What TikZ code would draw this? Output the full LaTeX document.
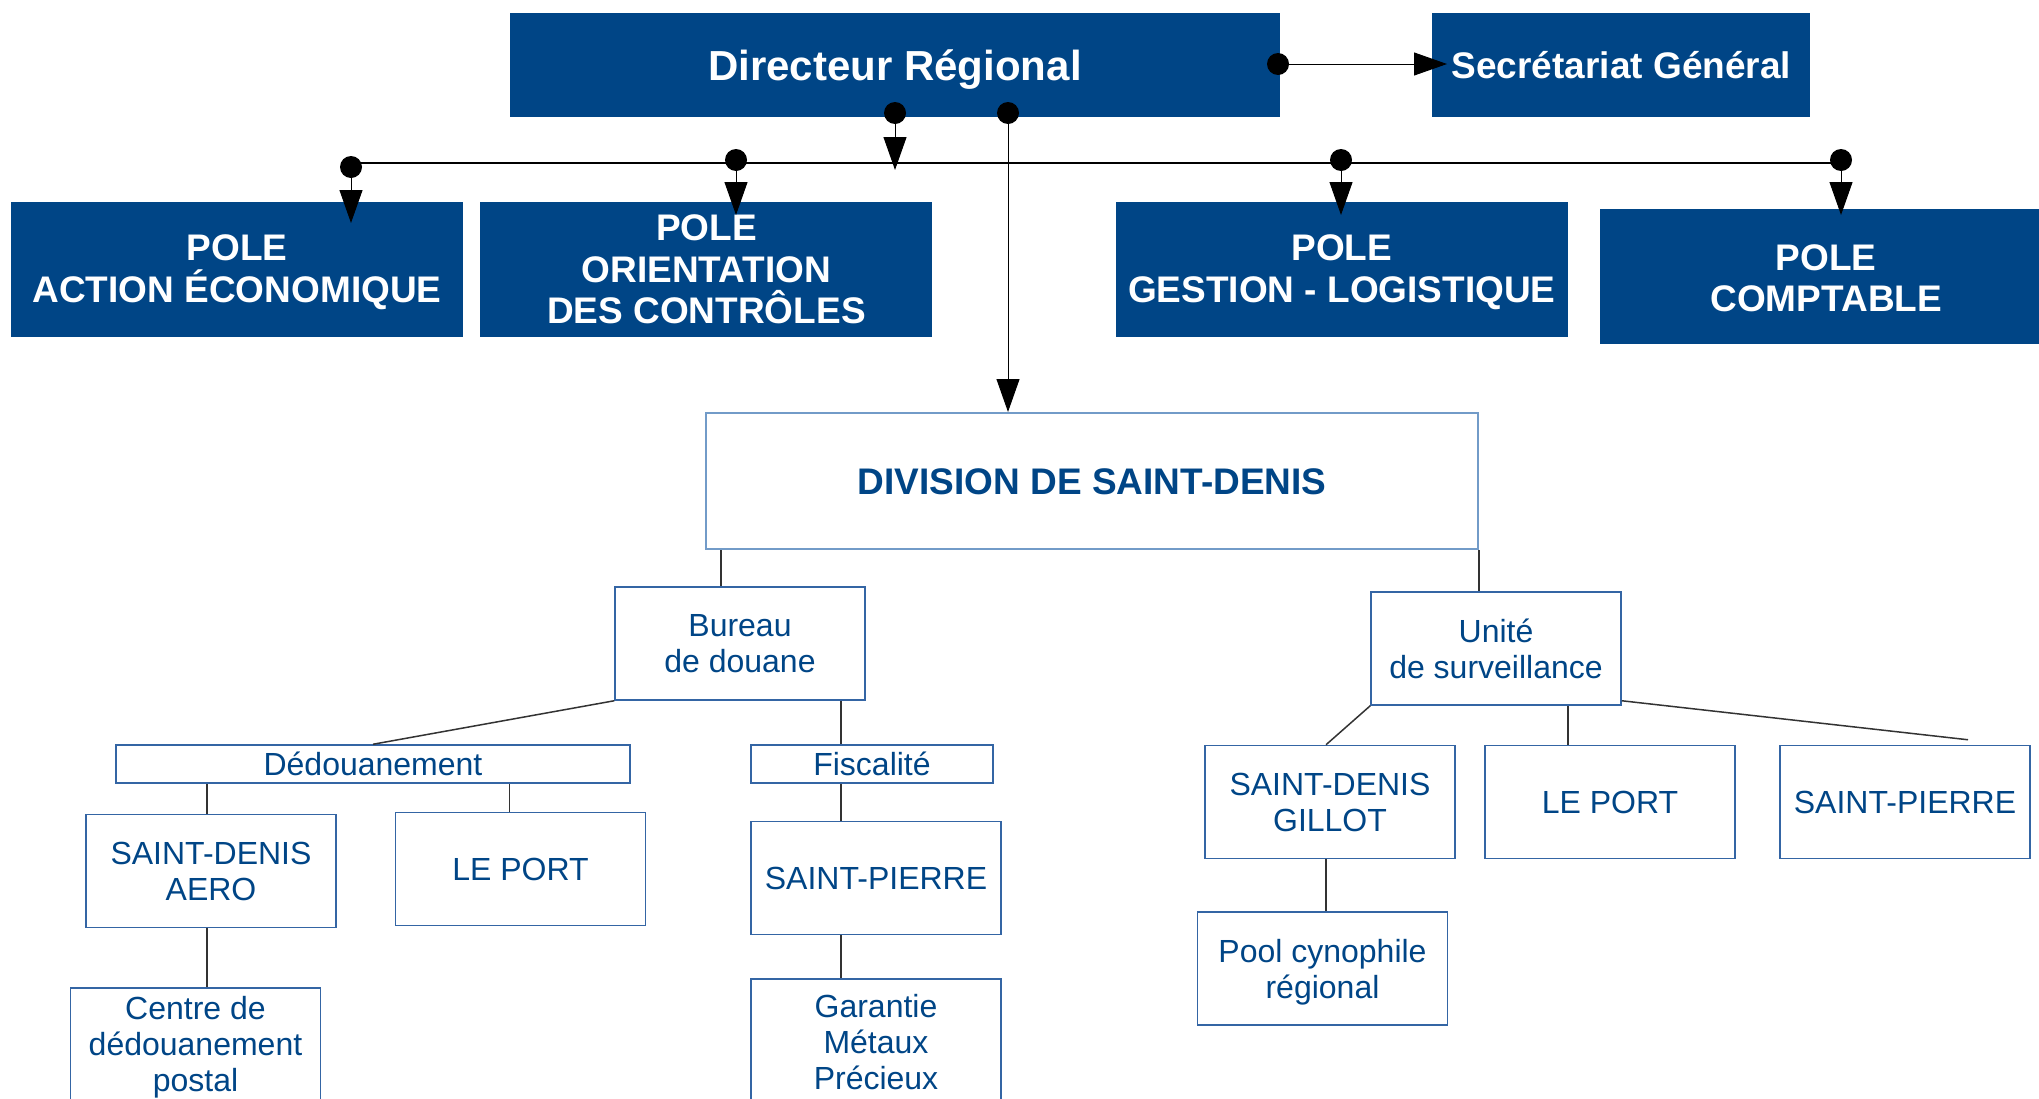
\documentclass[tikz,border=0pt]{standalone}
\usepackage{fontspec}
\setmainfont{Liberation Sans}
\usetikzlibrary{arrows.meta,positioning}

\definecolor{dgblue}{RGB}{0,69,134}
\definecolor{edgeblue}{RGB}{52,101,164}
\definecolor{paleblue}{RGB}{114,155,200}

\newcommand{\sinkby}[1]{\rule{0pt}{#1}}

\tikzset{
  topbox/.style={fill=dgblue, text=white, inner sep=0pt, align=center,
    font=\bfseries\fontsize{37}{41.5}\selectfont},
  polebox/.style={topbox, minimum width=452pt, minimum height=135pt},
  unitbox/.style={draw=edgeblue, line width=1.5pt, text=dgblue, inner sep=0pt, align=center,
    font=\fontsize{32}{36}\selectfont, minimum width=250pt, minimum height=113pt},
  stripbox/.style={unitbox, minimum height=38pt},
  dot/.style={circle, fill=black, inner sep=0pt, minimum size=22pt},
  feed/.style={line width=1pt, -{Triangle[length=33pt,width=23pt]}},
  bus/.style={line width=1.6pt},
  tie/.style={line width=1.5pt, draw=black!80}
}

\begin{document}
\begin{tikzpicture}[x=1pt, y=-1pt]
  \useasboundingbox (0,0) rectangle (2039,1098);

  \node[topbox, minimum width=770pt, minimum height=104pt,
        font=\bfseries\fontsize{42}{46}\selectfont] (dir) at (895,65) {\sinkby{39.5pt}Directeur Régional};
  \node[topbox, minimum width=378pt, minimum height=104pt, right=152pt of dir] (sec) {Secrétariat Général};

  \node[polebox] (pae) at (237,269.5) {\sinkby{31.7pt}POLE\\ACTION ÉCONOMIQUE};
  \node[polebox, right=17pt of pae] (poc) {POLE\\ORIENTATION\\DES CONTRÔLES};
  \node[polebox, right=183pt of poc] (pgl) {\sinkby{31.7pt}POLE\\GESTION - LOGISTIQUE};
  \node[polebox, right=32pt of pgl, yshift=-7pt] (pcp) {\sinkby{29pt}POLE\\COMPTABLE};

  \node[dot] (ddir) at (895,113) {};
  \node[dot] (ddiv) at (1008,113) {};
  \node[dot] (dsec) at (1278,64) {};
  \node[dot] (dpae) at (351,167) {};
  \node[dot] (dpoc) at (736,160) {};
  \node[dot] (dpgl) at (1341,160) {};
  \node[dot] (dpcp) at (1841,160) {};

  \coordinate (busw) at (351,163);
  \coordinate (buse) at (1841,163);
  \coordinate (tbus) at (895,170);
  \coordinate (tsec) at (1447,64);
  \coordinate (tpae) at (351,223);
  \coordinate (tpoc) at (736,215);
  \coordinate (tpgl) at (1341,215);
  \coordinate (tpcp) at (1841,215);

  \draw[bus] (busw) -- (buse);
  \draw[feed] (ddir) -- (tbus);
  \draw[feed] (dsec) -- (tsec);
  \draw[feed] (dpae) -- (tpae);
  \draw[feed] (dpoc) -- (tpoc);
  \draw[feed] (dpgl) -- (tpgl);
  \draw[feed] (dpcp) -- (tpcp);

  \node[unitbox, draw=paleblue, line width=2pt, minimum width=772pt, minimum height=136pt,
        font=\bfseries\fontsize{37}{41.5}\selectfont] (div) at (1092,481) {\sinkby{27.5pt}DIVISION DE SAINT-DENIS};
  \draw[feed] (ddiv) -- (ddiv |- div.north);

  \node[unitbox] (bur) at (740,643.5) {Bureau\\de douane};
  \node[stripbox, minimum width=514pt] (ded) at (373,764) {Dédouanement};
  \node[stripbox, minimum width=242pt] (fis) at (872,764) {Fiscalité};
  \node[unitbox] (sda) at (211,871) {SAINT-DENIS\\AERO};
  \node[unitbox] (lpo) at (520.5,869) {LE PORT};
  \node[unitbox] (spi) at (876,878) {SAINT-PIERRE};
  \node[unitbox] (cdp) at (195.5,1044.5) {\sinkby{28.5pt}Centre de\\dédouanement\\postal};
  \node[unitbox, minimum height=126pt] (gmp) at (876,1042) {Garantie\\Métaux\\Précieux};

  \node[unitbox] (uni) at (1496,648.5) {Unité\\de surveillance};
  \node[unitbox] (sdg) at (1330,802) {SAINT-DENIS\\GILLOT};
  \node[unitbox] (lpr) at (1610,802) {LE PORT};
  \node[unitbox] (spr) at (1905,802) {SAINT-PIERRE};
  \node[unitbox] (pcy) at (1322.5,968.5) {\sinkby{30pt}Pool cynophile\\régional};

  \draw[tie] ([xshift=-19pt]bur.north) -- ([xshift=-19pt]bur.north |- div.south);
  \draw[tie] (bur.south west) -- (ded.north);
  \draw[tie] ([xshift=-31pt]fis.north) -- ([xshift=-31pt]fis.north |- bur.south);
  \draw[tie] ([xshift=-4pt]sda.north) -- ([xshift=-4pt]sda.north |- ded.south);
  \draw[tie] ([xshift=-11pt]lpo.north) -- ([xshift=-11pt]lpo.north |- ded.south);
  \draw[tie] ([xshift=-35pt]spi.north) -- ([xshift=-35pt]spi.north |- fis.south);
  \draw[tie] ([xshift=-4pt]sda.south) -- ([xshift=-4pt]sda.south |- cdp.north);
  \draw[tie] ([xshift=-35pt]spi.south) -- ([xshift=-35pt]spi.south |- gmp.north);

  \draw[tie] (div.south east) -- (div.south east |- uni.north);
  \draw[tie] (uni.south west) -- ([xshift=-4pt]sdg.north);
  \draw[tie] ([xshift=-42pt]lpr.north) -- ([xshift=-42pt]lpr.north |- uni.south);
  \draw[tie] ([yshift=5pt]uni.south east) -- ([xshift=63pt,yshift=5pt]spr.north);
  \draw[tie] ([xshift=-4pt]sdg.south) -- ([xshift=-4pt]sdg.south |- pcy.north);
\end{tikzpicture}
\end{document}
